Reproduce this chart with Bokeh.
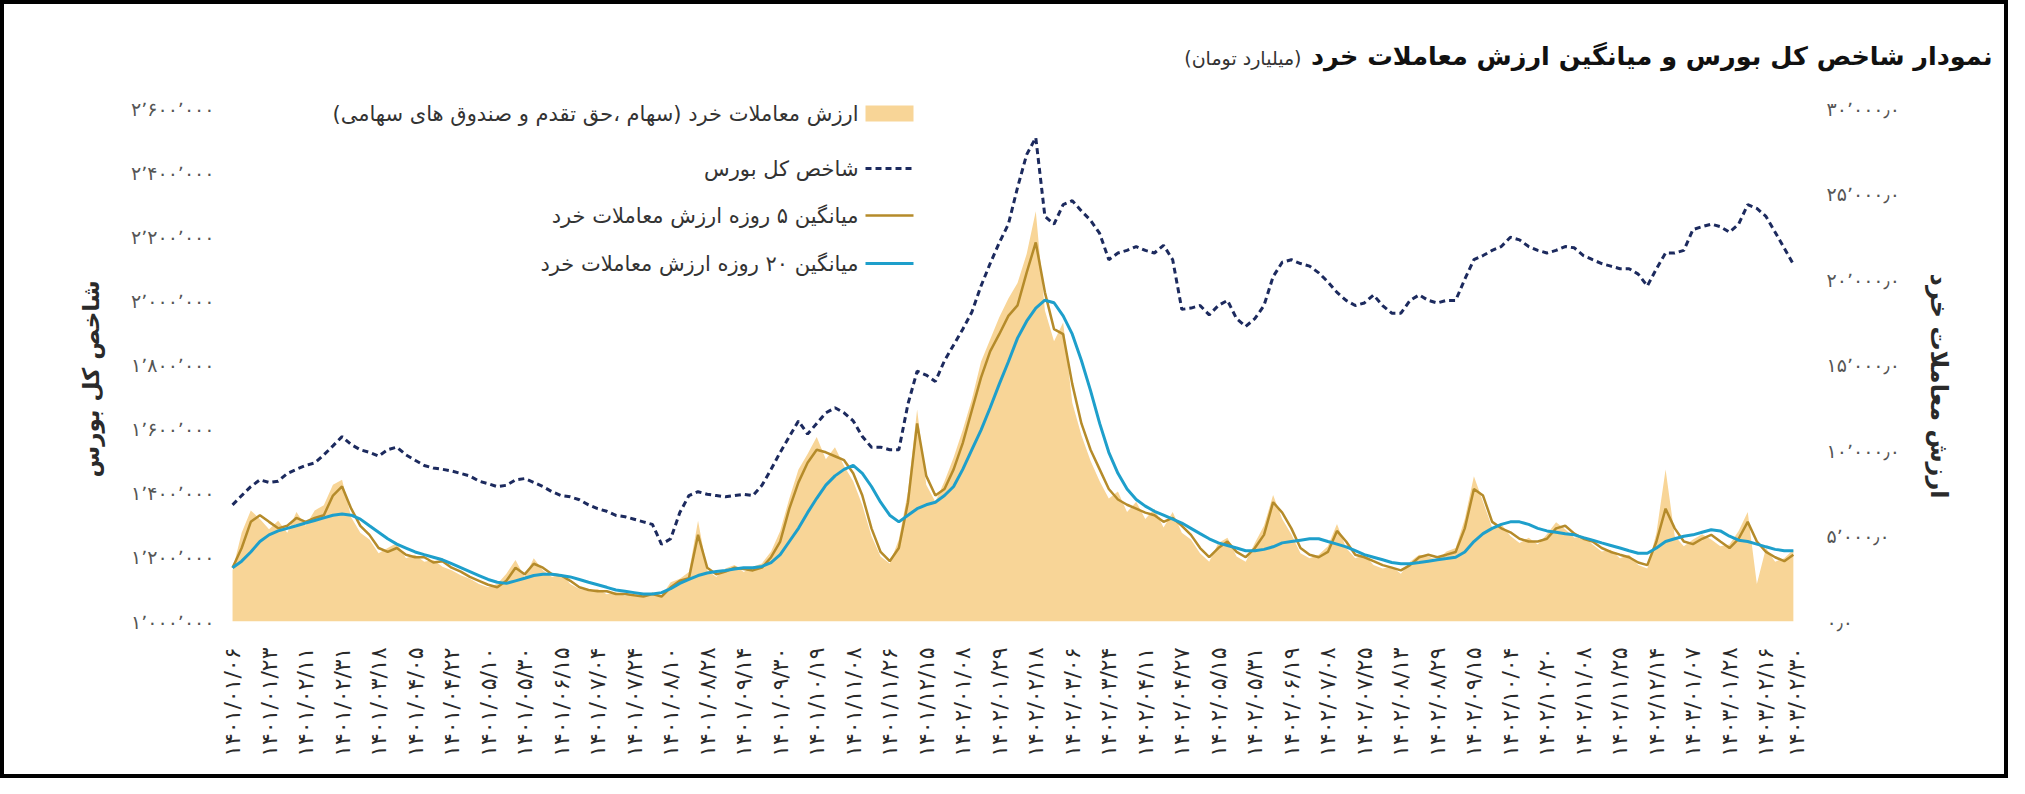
import math
from bokeh.plotting import figure
from bokeh.models import (Range1d, LinearAxis, FixedTicker, Label, BoxAnnotation,
                          Arrow, ColumnDataSource)
from bokeh.embed import file_html
from bokeh.resources import INLINE

# ---------------- data ----------------
# x positions are trading-day numbers counted from 1401/01/06 (one reading every 3 trading days)
day_index = list(range(0, 514, 3))

# TEDPIX (thousand points)
index_k = [
    1364, 1393, 1421, 1442, 1434, 1438, 1462, 1475, 1487, 1495, 1520, 1548,
    1577, 1552, 1536, 1528, 1516, 1536, 1544, 1520, 1503, 1487, 1479, 1475,
    1470, 1462, 1454, 1438, 1430, 1421, 1425, 1442, 1446, 1434, 1421, 1405,
    1393, 1389, 1380, 1364, 1352, 1344, 1331, 1327, 1319, 1311, 1303, 1241,
    1258, 1340, 1393, 1405, 1397, 1393, 1389, 1393, 1397, 1393, 1425, 1475,
    1528, 1577, 1626, 1585, 1618, 1651, 1667, 1651, 1626, 1577, 1544, 1544,
    1536, 1536, 1679, 1781, 1769, 1749, 1814, 1863, 1912, 1966, 2047, 2117,
    2182, 2240, 2354, 2457, 2510, 2264, 2240, 2301, 2313, 2281, 2252, 2211,
    2129, 2150, 2158, 2170, 2158, 2150, 2174, 2129, 1974, 1978, 1986, 1957,
    1986, 2002, 1945, 1921, 1945, 1986, 2076, 2121, 2129, 2117, 2109, 2088,
    2060, 2027, 2002, 1986, 1994, 2019, 1986, 1962, 1962, 2002, 2019, 2002,
    1994, 2002, 2002, 2068, 2129, 2142, 2158, 2170, 2199, 2191, 2170, 2158,
    2150, 2158, 2170, 2166, 2142, 2129, 2117, 2109, 2101, 2101, 2084, 2047,
    2101, 2150, 2150, 2158, 2223, 2232, 2240, 2232, 2215, 2240, 2301, 2289,
    2264, 2215, 2165, 2115,
]

# retail trading value (thousand billion toman)
daily_value = [
    3.0, 5.2, 6.5, 6.0, 5.4, 5.9, 5.2, 6.4, 5.6, 6.5, 6.8, 8.0,
    8.3, 6.1, 5.2, 4.8, 4.0, 4.3, 4.6, 3.7, 3.9, 3.5, 3.6, 3.2,
    3.0, 2.7, 2.5, 2.2, 2.0, 2.2, 2.8, 3.6, 2.6, 3.7, 3.0, 2.6,
    2.8, 2.2, 1.9, 1.8, 1.9, 1.6, 1.7, 1.5, 1.6, 1.4, 1.7, 1.5,
    2.3, 2.5, 2.9, 5.9, 3.0, 2.6, 3.1, 3.3, 2.9, 3.2, 3.4, 4.1,
    5.3, 7.2, 8.9, 9.8, 10.8, 9.5, 10.2, 9.1, 8.2, 6.8, 5.0, 3.8,
    3.4, 4.8, 7.6, 12.4, 8.0, 7.0, 8.2, 9.6, 11.2, 13.0, 15.2, 16.5,
    17.8, 18.9, 19.8, 21.5, 24.0, 18.2, 16.4, 17.5, 12.8, 10.9, 9.4, 8.2,
    7.2, 7.6, 6.4, 7.0, 6.0, 6.6, 5.5, 6.4, 5.2, 4.8, 4.0, 3.5,
    4.6, 4.9, 3.8, 3.5, 4.6, 5.6, 7.4, 6.0, 5.1, 4.0, 3.7, 3.9,
    4.4, 5.7, 4.3, 3.7, 3.9, 3.3, 3.1, 3.2, 2.8, 3.5, 3.9, 3.8,
    3.6, 4.1, 4.3, 6.0, 8.5, 7.0, 5.5, 5.7, 5.0, 4.6, 4.9, 4.5,
    5.1, 5.8, 5.4, 4.9, 5.0, 4.5, 4.1, 4.2, 3.7, 3.9, 3.3, 3.1,
    5.2, 8.9, 5.0, 4.4, 4.8, 5.1, 4.8, 4.4, 4.5, 5.3, 6.4, 2.2,
    4.3, 3.5, 3.7, 4.2,
]

ma5_value = [
    3.15, 4.30, 5.83, 6.22, 5.83, 5.45, 5.60, 6.06, 5.83, 6.06, 6.22, 7.37,
    7.90, 6.60, 5.60, 5.07, 4.30, 4.07, 4.30, 3.91, 3.76, 3.76, 3.45, 3.53,
    3.15, 2.92, 2.61, 2.38, 2.15, 2.00, 2.38, 3.15, 2.76, 3.38, 3.15, 2.76,
    2.69, 2.38, 2.00, 1.84, 1.77, 1.77, 1.61, 1.61, 1.53, 1.46, 1.61, 1.46,
    2.00, 2.38, 2.53, 5.07, 3.15, 2.76, 2.92, 3.15, 3.07, 2.99, 3.15, 3.76,
    4.68, 6.60, 8.14, 9.29, 10.05, 9.90, 9.67, 9.44, 8.67, 7.37, 5.45, 4.07,
    3.53, 4.30, 6.98, 11.59, 8.52, 7.37, 7.75, 8.90, 10.44, 12.36, 14.27, 15.81,
    16.81, 17.88, 18.50, 20.41, 22.18, 19.26, 17.11, 16.81, 13.89, 11.59, 10.05, 8.90,
    7.75, 7.14, 6.83, 6.60, 6.37, 6.22, 5.83, 6.06, 5.60, 5.07, 4.30, 3.76,
    4.30, 4.68, 4.07, 3.76, 4.30, 5.07, 6.98, 6.37, 5.45, 4.30, 3.91, 3.76,
    4.07, 5.30, 4.68, 3.91, 3.76, 3.53, 3.30, 3.15, 2.99, 3.30, 3.76, 3.91,
    3.76, 3.91, 4.07, 5.45, 7.75, 7.37, 5.83, 5.45, 5.22, 4.84, 4.68, 4.68,
    4.84, 5.45, 5.60, 5.14, 4.84, 4.68, 4.30, 4.07, 3.91, 3.76, 3.45, 3.30,
    4.68, 6.60, 5.45, 4.68, 4.53, 4.84, 5.07, 4.68, 4.30, 4.84, 5.83, 4.68,
    4.07, 3.76, 3.53, 3.91,
]

ma20_value = [
    3.15, 3.53, 4.07, 4.68, 5.07, 5.30, 5.45, 5.60, 5.76, 5.91, 6.06, 6.22,
    6.29, 6.22, 5.99, 5.60, 5.22, 4.84, 4.53, 4.30, 4.07, 3.91, 3.76, 3.61,
    3.38, 3.15, 2.92, 2.69, 2.46, 2.30, 2.23, 2.38, 2.53, 2.69, 2.76, 2.76,
    2.69, 2.61, 2.46, 2.30, 2.15, 2.00, 1.84, 1.77, 1.69, 1.61, 1.61, 1.69,
    1.92, 2.23, 2.46, 2.69, 2.84, 2.92, 2.99, 3.07, 3.15, 3.15, 3.22, 3.45,
    3.91, 4.68, 5.45, 6.37, 7.21, 7.98, 8.52, 8.90, 9.13, 8.67, 7.90, 6.98,
    6.22, 5.83, 6.22, 6.60, 6.83, 6.98, 7.37, 7.90, 8.90, 10.05, 11.20, 12.51,
    13.89, 15.20, 16.58, 17.57, 18.34, 18.80, 18.65, 17.88, 16.81, 15.27, 13.51, 11.59,
    9.90, 8.67, 7.75, 7.14, 6.75, 6.45, 6.22, 5.99, 5.76, 5.45, 5.14, 4.84,
    4.60, 4.45, 4.30, 4.14, 4.14, 4.22, 4.37, 4.60, 4.68, 4.76, 4.84, 4.84,
    4.68, 4.53, 4.37, 4.14, 3.91, 3.76, 3.61, 3.45, 3.38, 3.38, 3.45, 3.53,
    3.61, 3.68, 3.76, 4.07, 4.68, 5.14, 5.45, 5.68, 5.83, 5.83, 5.68, 5.45,
    5.30, 5.22, 5.14, 5.07, 4.91, 4.76, 4.60, 4.45, 4.30, 4.14, 3.99, 3.99,
    4.30, 4.68, 4.84, 4.99, 5.07, 5.22, 5.37, 5.30, 4.99, 4.76, 4.68, 4.53,
    4.37, 4.22, 4.14, 4.14,
]

# x tick labels (every 12 trading days, plus the last day)
date_labels = [
    "1401/01/06", "1401/01/23", "1401/02/11", "1401/02/31", "1401/03/18", "1401/04/05",
    "1401/04/22", "1401/05/10", "1401/05/30", "1401/06/15", "1401/07/04", "1401/07/24",
    "1401/08/10", "1401/08/28", "1401/09/14", "1401/09/30", "1401/10/19", "1401/11/08",
    "1401/11/26", "1401/12/15", "1402/01/08", "1402/01/29", "1402/02/18", "1402/03/06",
    "1402/03/24", "1402/04/11", "1402/04/27", "1402/05/15", "1402/05/31", "1402/06/19",
    "1402/07/08", "1402/07/25", "1402/08/13", "1402/08/29", "1402/09/15", "1402/10/04",
    "1402/10/20", "1402/11/08", "1402/11/25", "1402/12/14", "1403/01/07", "1403/01/28",
    "1403/02/16", "1403/02/30",
]
label_index = list(range(0, 505, 12)) + [514]

left_ticks = [1000000, 1200000, 1400000, 1600000, 1800000, 2000000, 2200000, 2400000, 2600000]
right_ticks = [0, 5000, 10000, 15000, 20000, 25000, 30000]

title_main = "نمودار شاخص کل بورس و میانگین ارزش معاملات خرد"
title_unit = "(میلیارد تومان)"
left_title = "شاخص کل بورس"
right_title = "ارزش معاملات خرد"
legend_texts = [
    "ارزش معاملات خرد (سهام ،حق تقدم و صندوق های سهامی)",
    "شاخص کل بورس",
    "میانگین ۵ روزه ارزش معاملات خرد",
    "میانگین ۲۰ روزه ارزش معاملات خرد",
]

# ---------------- helpers ----------------
FA = str.maketrans("0123456789", "۰۱۲۳۴۵۶۷۸۹")
RLM = "\u200f"
EM = "\u2003"


def fa(s):
    return s.translate(FA)


def fa_int(v):
    return fa(f"{v:,}".replace(",", "٬"))


def fa_dec(v):
    return fa(f"{v:,.1f}".replace(",", "٬").replace(".", "٫"))


def rtl(s):
    return RLM + s + RLM


FONT = "DejaVu Sans"
TAN = "#F8D597"
GOLD = "#B58B2A"
TEAL = "#1E9FCB"
NAVY = "#1C2A5E"
TXT = "#2a2a2a"

# ---------------- layout ----------------
BORDER = 4
W, H = 2000, 770                  # drawing canvas (inside the black frame line)
FL, FR, FB = 225, 1790, 609       # frame left / right / bottom inside the canvas
AXIS_TOP = 104                    # canvas y of the top tick (2.6M / 30,000)
FT = 86                           # frame top (legend sits inside the frame)
span_px = FB - AXIS_TOP
extra = (AXIS_TOP - FT) / span_px

y_lo, y_hi = left_ticks[0], left_ticks[-1]
r_lo, r_hi = right_ticks[0], right_ticks[-1]


def canvas_y_to_index(cy):
    return y_hi + (y_hi - y_lo) * (AXIS_TOP - cy) / span_px


p = figure(width=W + 2 * BORDER, height=H + 2 * BORDER,
           output_backend="svg", toolbar_location=None,
           x_range=Range1d(-1, 516),
           y_range=Range1d(y_lo, y_hi + (y_hi - y_lo) * extra),
           min_border_left=FL, min_border_right=W - FR,
           min_border_top=FT, min_border_bottom=H - FB,
           background_fill_color="white", border_fill_color="white",
           outline_line_color=None)
p.styles = {"border": f"{BORDER}px solid black"}
p.extra_y_ranges = {"vol": Range1d(r_lo, r_hi + (r_hi - r_lo) * extra)}
p.xgrid.visible = False
p.ygrid.visible = False

src = ColumnDataSource(dict(
    x=day_index,
    idx=[v * 1000 for v in index_k],
    daily=[v * 1000 for v in daily_value],
    ma5=[v * 1000 for v in ma5_value],
    ma20=[v * 1000 for v in ma20_value],
))

p.varea(x="x", y1=0, y2="daily", source=src, y_range_name="vol", fill_color=TAN)
p.line("x", "ma5", source=src, y_range_name="vol", line_color=GOLD, line_width=2.5)
p.line("x", "ma20", source=src, y_range_name="vol", line_color=TEAL, line_width=3)
p.line("x", "idx", source=src, line_color=NAVY, line_width=3, line_dash="6 4")

# x axis
xa = p.xaxis[0]
xa.ticker = FixedTicker(ticks=label_index)
xa.major_label_overrides = {i: fa(s) for i, s in zip(label_index, date_labels)}
xa.major_label_orientation = math.pi / 2
xa.major_label_standoff = 26
xa.major_label_text_font = FONT
xa.major_label_text_font_size = "22px"
xa.major_label_text_color = TXT
xa.axis_line_color = None
xa.major_tick_line_color = None
xa.minor_tick_line_color = None
xa.major_tick_out = 0
xa.major_tick_in = 0

# left axis (label padded at its upper end so it sits a little lower, as in the source)
ya = p.yaxis[0]
ya.ticker = FixedTicker(ticks=left_ticks)
ya.major_label_overrides = {t: fa_int(t) for t in left_ticks}
ya.major_label_standoff = 15
ya.major_label_text_font = FONT
ya.major_label_text_font_size = "19px"
ya.major_label_text_color = "#555555"
ya.axis_line_color = None
ya.major_tick_line_color = None
ya.minor_tick_line_color = None
ya.major_tick_out = 0
ya.major_tick_in = 0
ya.axis_label = RLM + EM + EM + left_title + RLM
ya.axis_label_text_font = FONT
ya.axis_label_text_font_style = "bold"
ya.axis_label_text_font_size = "23px"
ya.axis_label_text_color = TXT
ya.axis_label_standoff = 24

# right axis
ra = LinearAxis(y_range_name="vol", ticker=FixedTicker(ticks=right_ticks))
ra.major_label_overrides = {t: fa_dec(t) for t in right_ticks}
ra.major_label_standoff = 24
ra.major_label_text_font = FONT
ra.major_label_text_font_size = "19px"
ra.major_label_text_color = "#555555"
ra.axis_line_color = None
ra.major_tick_line_color = None
ra.minor_tick_line_color = None
ra.major_tick_out = 0
ra.major_tick_in = 0
ra.axis_label = RLM + right_title + EM + EM + "\u2002" + RLM
ra.axis_label_text_font = FONT
ra.axis_label_text_font_style = "bold"
ra.axis_label_text_font_size = "24px"
ra.axis_label_text_color = TXT
ra.axis_label_standoff = 22
p.add_layout(ra, "right")

# title: placed in the panel above the frame so that it is not clipped;
# x in screen px from the frame's left edge, y on the index scale
p.add_layout(Label(x=1763, y=canvas_y_to_index(52), x_units="screen", y_units="data",
                   text=rtl(title_main), text_align="right", text_baseline="middle",
                   text_font=FONT, text_font_style="bold", text_font_size="25.5px",
                   text_color="#111111"), "above")
p.add_layout(Label(x=1072, y=canvas_y_to_index(54), x_units="screen", y_units="data",
                   text=rtl(title_unit), text_align="right", text_baseline="middle",
                   text_font=FONT, text_font_size="19px", text_color="#333333"), "above")

# legend (right-to-left: text, then its key to the right); screen px from frame's lower-left
rows_y = [508, 453, 406, 358]
text_x = 629
key_x0, key_x1 = 636, 684
for t, yy in zip(legend_texts, rows_y):
    p.add_layout(Label(x=text_x, y=yy, x_units="screen", y_units="screen",
                       text=rtl(t), text_align="right", text_baseline="middle",
                       text_font=FONT, text_font_size="21px", text_color="#333333"))
p.add_layout(BoxAnnotation(left=key_x0, right=key_x1, bottom=rows_y[0] - 8, top=rows_y[0] + 8,
                           left_units="screen", right_units="screen",
                           bottom_units="screen", top_units="screen",
                           fill_color=TAN, fill_alpha=1, line_color=None))
for yy, col, dash, lw in [(rows_y[1], NAVY, "6 4", 3), (rows_y[2], GOLD, "solid", 2.5),
                          (rows_y[3], TEAL, "solid", 3)]:
    p.add_layout(Arrow(end=None, x_start=key_x0, y_start=yy, x_end=key_x1, y_end=yy,
                       start_units="screen", end_units="screen",
                       line_color=col, line_width=lw, line_dash=dash))

open("out.html", "w").write(file_html(p, INLINE))
